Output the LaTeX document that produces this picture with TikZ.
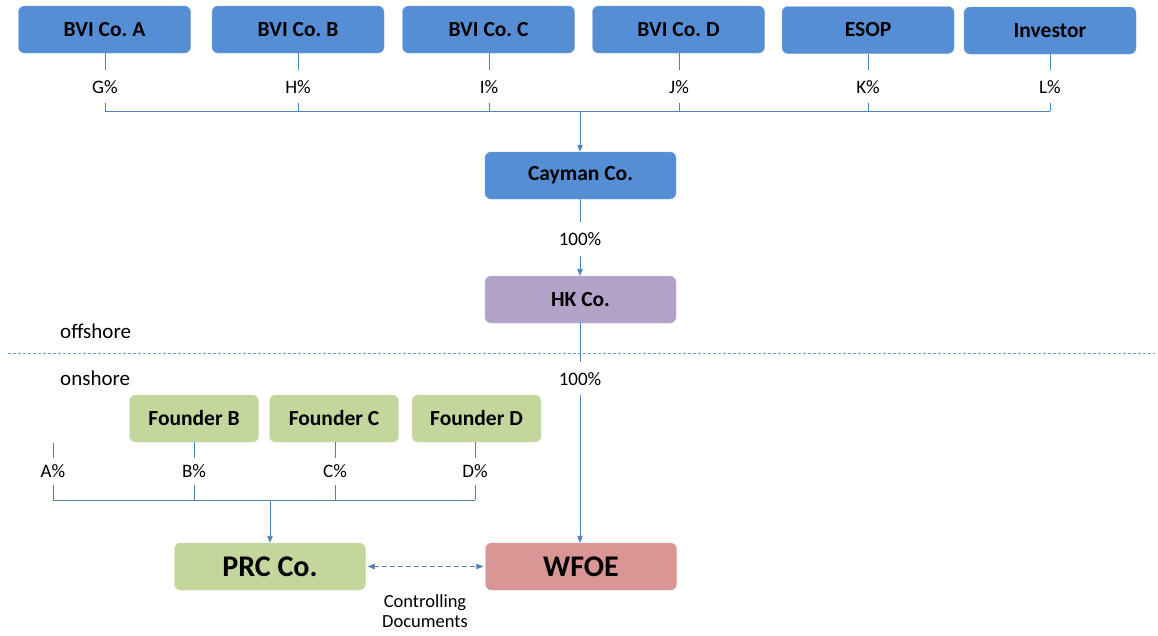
\documentclass[tikz,border=0pt]{standalone}
\usepackage{fontspec}
\setmainfont{Carlito}
\frenchspacing
\usetikzlibrary{arrows.meta}
\definecolor{boxblue}{HTML}{558ED5}
\definecolor{boxpurple}{HTML}{B3A2C7}
\definecolor{boxgreen}{HTML}{C3D69B}
\definecolor{boxred}{HTML}{D99694}
\definecolor{lineblue}{HTML}{4F81BD}
\definecolor{seplight}{HTML}{6F9BD4}
\tikzset{
 box/.style={rounded corners=6pt, minimum height=47pt, inner sep=0pt, text=black, font=\frenchspacing\bfseries\fontsize{21.5}{21.5}\selectfont},
 bluebox/.style={box, fill=boxblue, draw=boxblue!80!white, minimum width=172pt},
 midbox/.style={box, minimum width=191pt},
 founderbox/.style={box, fill=boxgreen, draw=boxgreen!80!white, minimum width=129pt},
 bigbox/.style={box, minimum width=191pt, font=\frenchspacing\bfseries\fontsize{30}{30}\selectfont},
 conn/.style={draw=lineblue, line width=0.9pt},
 arr/.style={conn, -{Triangle[length=7pt,width=5.5pt]}},
 pct/.style={inner sep=0pt, font=\fontsize{19}{19}\selectfont},
 zone/.style={inner sep=0pt, anchor=west, font=\fontsize{21}{21}\selectfont}
}
\begin{document}
\begin{tikzpicture}[x=1pt,y=-1pt]
\useasboundingbox (0,0) rectangle (1158,635);
% top row
\node[bluebox] (bA) at (104.5,29.5) {BVI Co. A};
\node[bluebox] (bB) at (298,29.5) {BVI Co. B};
\node[bluebox] (bC) at (488.5,29.5) {BVI Co. C};
\node[bluebox] (bD) at (678.5,29.5) {BVI Co. D};
\node[bluebox] (esop) at (868,30) {ESOP};
\node[bluebox] (inv) at (1050,30.5) {Investor};
\foreach \n/\x/\l in {bA/105/G, bB/298/H, bC/489/I, bD/679/J, esop/868/K, inv/1050/L}{
  \coordinate (\n t) at (\x,70);
  \node[pct] (\n p) at (\x,87) {\l\%};
  \coordinate (\n u) at (\x,103);
  \coordinate (\n b) at (\x,111);
  \draw[conn] (\n.south -| \n t) -- (\n t);
  \draw[conn] (\n u) -- (\n b);
}
\draw[conn] (bAb) -- (invb);
\coordinate (topbus) at (580,111);
% Cayman, HK
\node[midbox, fill=boxblue, draw=boxblue!80!white] (cay) at (580.5,175.5) {Cayman Co.};
\node[midbox, fill=boxpurple, draw=boxpurple!80!white] (hk) at (580.5,299.5) {HK Co.};
\draw[arr] (topbus) -- (cay.north -| topbus);
\coordinate (c1) at (580,222);
\node[pct] (p1) at (580,239) {100\%};
\coordinate (c2) at (580,256);
\draw[conn] (cay.south -| c1) -- (c1);
\draw[arr] (c2) -- (hk.north -| c2);
% separator
\coordinate (sepL) at (8,353);
\coordinate (sepR) at (1155,353);
\draw[seplight, line width=0.9pt, dash pattern=on 3pt off 2pt] (sepL) -- (sepR);
\node[zone] (off) at (60,331) {offshore};
\node[zone] (on) at (60,378) {onshore};
% HK -> WFOE
\node[bigbox, fill=boxred, draw=boxred!80!white] (wfoe) at (581,566.5) {WFOE};
\node[bigbox, fill=boxgreen, draw=boxgreen!80!white] (prc) at (270,566.5) {PRC Co.};
\coordinate (c3) at (580,362);
\node[pct] (p2) at (580,379) {100\%};
\coordinate (c4) at (580,395);
\draw[conn] (hk.south -| c3) -- (c3);
\draw[arr] (c4) -- (wfoe.north -| c4);
% founders
\node[founderbox] (fB) at (194,418.5) {Founder B};
\node[founderbox] (fC) at (334,418.5) {Founder C};
\node[founderbox] (fD) at (476.5,418.5) {Founder D};
\coordinate (aTop) at (53,443);
\coordinate (aBot) at (53,458);
\draw[conn] (aTop) -- (aBot);
\node[pct] (pA) at (53,471) {A\%};
\foreach \n/\x/\l in {fB/194/B, fC/335/C, fD/475/D}{
  \coordinate (\n t) at (\x,458);
  \node[pct] (\n p) at (\x,471) {\l\%};
  \draw[conn] (\n.south -| \n t) -- (\n t);
}
\foreach \n/\x in {a/53, fB/194, fC/335, fD/475}{
  \coordinate (\n u) at (\x,485);
  \coordinate (\n b) at (\x,500);
  \draw[conn] (\n u) -- (\n b);
}
\draw[conn] (ab) -- (fDb);
\coordinate (botbus) at (270,500);
\draw[arr] (botbus) -- (prc.north -| botbus);
% controlling documents
\draw[conn, line width=0.9pt, dash pattern=on 5pt off 3pt, {Triangle[length=7pt,width=5.5pt]}-{Triangle[length=7pt,width=5.5pt]}, shorten <=2pt, shorten >=2pt] (prc.east) -- (wfoe.west);
\node[inner sep=0pt, align=center, font=\fontsize{18.5}{20}\selectfont] (cd) at (425,611) {Controlling\\Documents};
\end{tikzpicture}
\end{document}
